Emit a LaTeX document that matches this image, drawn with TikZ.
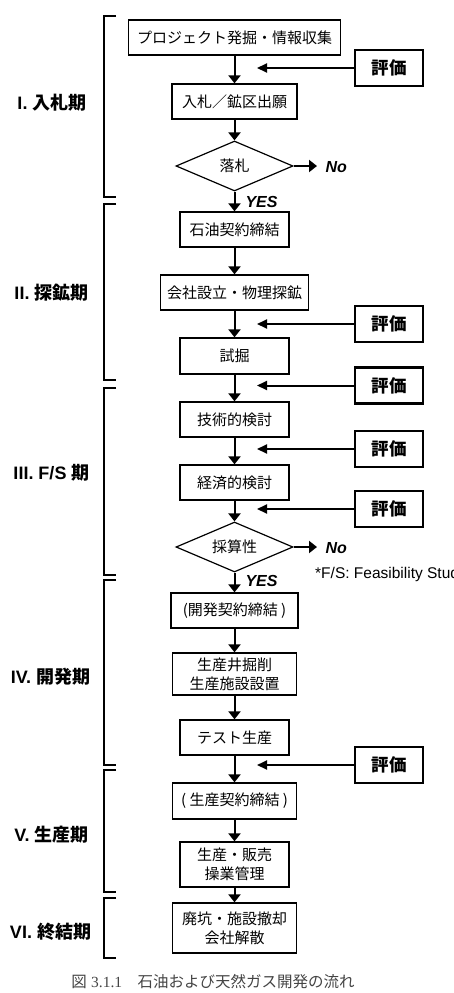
\documentclass[tikz,border=0pt]{standalone}
\usepackage{fontspec}
\setmainfont{Liberation Sans}
\newfontfamily\jp{Noto Sans CJK JP}
\newfontfamily\lat{Liberation Sans}
\newfontfamily\latserif{Liberation Serif}
\usetikzlibrary{arrows.meta,shapes.geometric}
\definecolor{capgray}{HTML}{444444}
\begin{document}
\begin{tikzpicture}[x=1pt,y=-1pt,
  box/.style={draw, line width=1.3pt, inner sep=0pt, align=center, font=\jp\fontsize{15}{19}\selectfont},
  evalbox/.style={draw, line width=2.2pt, minimum width=68pt, minimum height=36pt, inner sep=0pt, font=\jp\bfseries\fontsize{17.5}{20}\selectfont},
  dec/.style={diamond, draw, line width=1.2pt, aspect=2.34, minimum width=117pt, minimum height=50pt, inner sep=0pt, font=\jp\fontsize{15}{19}\selectfont},
  flow/.style={line width=2pt, -{Triangle[length=8pt,width=12pt]}},
  feed/.style={line width=2pt, -{Triangle[length=10pt,width=9pt]}},
  brk/.style={line width=1.3pt},
  phase/.style={font=\bfseries\fontsize{18}{21}\selectfont},
  yn/.style={font=\lat\bfseries\itshape\fontsize{16}{18}\selectfont},
  note/.style={font=\lat\fontsize{15.5}{18}\selectfont}
]
\useasboundingbox (0,0) rectangle (454,993);

% main flow boxes
\node[box, minimum width=212pt, minimum height=35pt] (b1) at (234.5,37.5) {プロジェクト発掘・情報収集};
\node[box, minimum width=125pt, minimum height=35pt] (b2) at (234.5,101.5) {入札／鉱区出願};
\node[dec] (d1) at (234.5,166) {落札};
\node[box, minimum width=109pt, minimum height=35pt] (b3) at (234.5,229.5) {石油契約締結};
\node[box, minimum width=148pt, minimum height=35pt] (b4) at (234.5,292.5) {会社設立・物理探鉱};
\node[box, minimum width=109pt, minimum height=36pt] (b5) at (234.5,356) {試掘};
\node[box, minimum width=109pt, minimum height=35pt] (b6) at (234.5,419.5) {技術的検討};
\node[box, minimum width=109pt, minimum height=35pt] (b7) at (234.5,482.5) {経済的検討};
\node[dec] (d2) at (234.5,547) {採算性};
\node[box, minimum width=127pt, minimum height=35pt] (b8) at (234.5,610.5) {(開発契約締結 )};
\node[box, minimum width=124pt, minimum height=42pt] (b9) at (234.5,674) {生産井掘削\\生産施設設置};
\node[box, minimum width=109pt, minimum height=35pt] (b10) at (234.5,737.5) {テスト生産};
\node[box, minimum width=124pt, minimum height=36pt] (b11) at (234.5,801) {( 生産契約締結 )};
\node[box, minimum width=109pt, minimum height=45pt] (b12) at (234.5,864.5) {生産・販売\\操業管理};
\node[box, minimum width=124pt, minimum height=50pt] (b13) at (234.5,928) {廃坑・施設撤却\\会社解散};

% main arrows
\draw[flow] (b1.south) -- (b2.north);
\draw[flow] (b2.south) -- (d1.north);
\draw[flow] (d1.south) -- (b3.north);
\draw[flow] (b3.south) -- (b4.north);
\draw[flow] (b4.south) -- (b5.north);
\draw[flow] (b5.south) -- (b6.north);
\draw[flow] (b6.south) -- (b7.north);
\draw[flow] (b7.south) -- (d2.north);
\draw[flow] (d2.south) -- (b8.north);
\draw[flow] (b8.south) -- (b9.north);
\draw[flow] (b9.south) -- (b10.north);
\draw[flow] (b10.south) -- (b11.north);
\draw[flow] (b11.south) -- (b12.north);
\draw[flow] (b12.south) -- (b13.north);

% decisions
\coordinate (n1) at (317,166);
\coordinate (n2) at (317,547);
\draw[flow] (d1.east) -- (n1);
\draw[flow] (d2.east) -- (n2);
\node[yn, anchor=west] (no1) at (322,167) {No};
\node[yn, anchor=west] (no2) at (322,548) {No};
\node[yn, anchor=west] (yes1) at (242,202) {YES};
\node[yn, anchor=west] (yes2) at (242,581) {YES};
\node[note, anchor=west, inner sep=0pt] (fs) at (315,574) {*F/S: Feasibility Study};

% evaluation boxes
\node[evalbox] (e1) at (389,68) {評価};
\node[evalbox] (e2) at (389,324) {評価};
\node[evalbox] (e3) at (389,385.5) {評価};
\node[evalbox] (e4) at (389,449) {評価};
\node[evalbox] (e5) at (389,509) {評価};
\node[evalbox] (e6) at (389,765) {評価};
\coordinate (t1) at (257,68);
\coordinate (t2) at (257,324);
\coordinate (t3) at (257,385.5);
\coordinate (t4) at (257,449);
\coordinate (t5) at (257,509);
\coordinate (t6) at (257,765);
\draw[feed] (e1.west) -- (t1);
\draw[feed] (e2.west) -- (t2);
\draw[feed] (e3.west) -- (t3);
\draw[feed] (e4.west) -- (t4);
\draw[feed] (e5.west) -- (t5);
\draw[feed] (e6.west) -- (t6);

% phase brackets
\draw[brk] (116,16) -- (104,16) -- (104,197) -- (116,197);
\draw[brk] (116,204) -- (104,204) -- (104,380) -- (116,380);
\draw[brk] (116,388) -- (104,388) -- (104,575) -- (116,575);
\draw[brk] (116,580) -- (104,580) -- (104,765) -- (116,765);
\draw[brk] (116,770) -- (104,770) -- (104,892) -- (116,892);
\draw[brk] (116,898) -- (104,898) -- (104,958) -- (116,958);

% phase labels
\node[phase] (p1) at (52,103) {{\lat I.} {\jp 入札期}};
\node[phase] (p2) at (51.5,293) {{\lat II.} {\jp 探鉱期}};
\node[phase] (p3) at (51.5,473) {{\lat III. F/S} {\jp 期}};
\node[phase] (p4) at (50.5,677) {{\lat IV.} {\jp 開発期}};
\node[phase] (p5) at (51.5,835) {{\lat V.} {\jp 生産期}};
\node[phase] (p6) at (50.5,932) {{\lat VI.} {\jp 終結期}};

% caption
\node[text=capgray, font=\fontsize{15.5}{18}\selectfont] (cap) at (213,982) {{\jp 図} {\latserif 3.1.1}\quad{\jp 石油および天然ガス開発の流れ}};
\end{tikzpicture}
\end{document}
